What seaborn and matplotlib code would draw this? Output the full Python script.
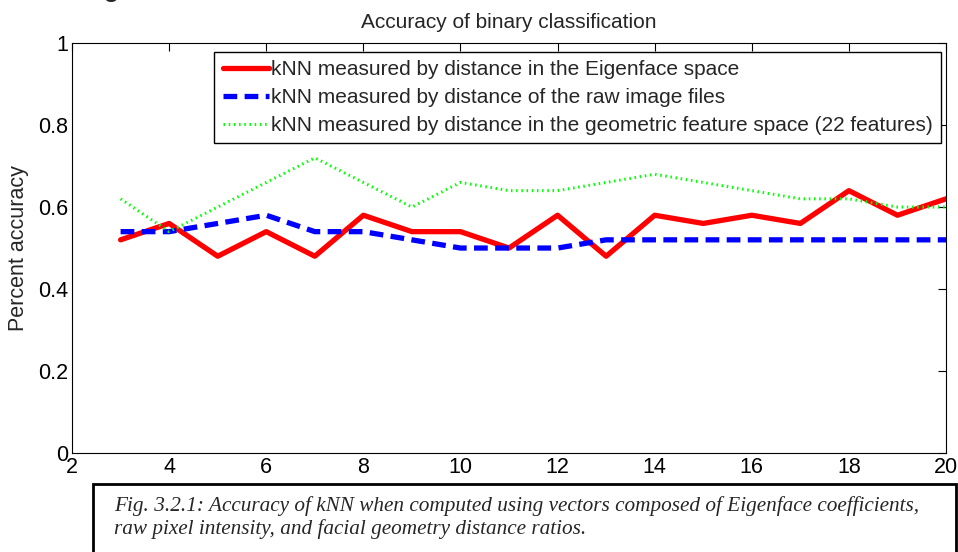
import matplotlib
matplotlib.use("Agg")
import matplotlib.pyplot as plt
import matplotlib.patches as patches
import seaborn as sns
import pandas as pd

# number of neighbours k
k_values = list(range(3, 21))

# accuracy values
eigenface_acc = [0.52, 0.56, 0.48, 0.54, 0.48, 0.58, 0.54, 0.54, 0.50,
                 0.58, 0.48, 0.58, 0.56, 0.58, 0.56, 0.64, 0.58, 0.62]
raw_acc = [0.54, 0.54, 0.56, 0.58, 0.54, 0.54, 0.52, 0.50, 0.50,
           0.50, 0.52, 0.52, 0.52, 0.52, 0.52, 0.52, 0.52, 0.52]
geom_acc = [0.62, 0.54, 0.60, 0.66, 0.72, 0.66, 0.60, 0.66, 0.64,
            0.64, 0.66, 0.68, 0.66, 0.64, 0.62, 0.62, 0.60, 0.60]

labels = ["kNN measured by distance in the Eigenface space",
          "kNN measured by distance of the raw image files",
          "kNN measured by distance in the geometric feature space (22 features)"]

x_ticks = [2, 4, 6, 8, 10, 12, 14, 16, 18, 20]
y_ticks = [0, 0.2, 0.4, 0.6, 0.8, 1]
y_ticklabels = ["0", "0.2", "0.4", "0.6", "0.8", "1"]

caption = ("Fig. 3.2.1: Accuracy of kNN when computed using vectors composed of Eigenface coefficients,\n"
           "raw pixel intensity, and facial geometry distance ratios.")

df = pd.DataFrame({"k": k_values, "eig": eigenface_acc, "raw": raw_acc, "geom": geom_acc})

sns.set_style("white")
plt.rcParams["font.family"] = ["Liberation Sans", "DejaVu Sans"]

fig = plt.figure(figsize=(9.58, 5.52), dpi=100)
ax = fig.add_axes([0.0752, 0.1793, 0.9123, 0.7427])

sns.lineplot(data=df, x="k", y="eig", ax=ax, color=(1, 0, 0), linewidth=3.8,
             label=labels[0])
sns.lineplot(data=df, x="k", y="raw", ax=ax, color=(0, 0, 1), linewidth=3.8,
             linestyle=(0, (2.6, 1.4)), label=labels[1])
sns.lineplot(data=df, x="k", y="geom", ax=ax, color=(0, 1, 0), linewidth=2.2,
             linestyle=(0, (0.5, 1.2)), label=labels[2])

ax.set_xlim(2, 20)
ax.set_ylim(0, 1)
ax.set_xticks(x_ticks)
ax.set_xticklabels([str(t) for t in x_ticks])
ax.set_yticks(y_ticks)
ax.set_yticklabels(y_ticklabels)
ax.tick_params(direction="in", length=6, width=0.8, top=True, right=True,
               labelsize=15.5, colors="black", pad=3)
for s in ax.spines.values():
    s.set_color("black")
    s.set_linewidth(0.8)

ax.set_xlabel("")
ax.set_ylabel("Percent accuracy", fontsize=15.5, labelpad=6)
ax.set_title("Accuracy of binary classification", fontsize=15, pad=11)

leg = ax.legend(loc="upper right", bbox_to_anchor=(0.994, 0.978), borderaxespad=0,
                fontsize=15, frameon=True, fancybox=False, framealpha=1,
                handlelength=2.2, handletextpad=0.1, borderpad=0.4,
                labelspacing=0.42)
leg.get_frame().set_edgecolor("black")
leg.get_frame().set_linewidth(1.0)

# leftover fragment of heading text at the very top
fig.text(0.107, 1.024, "g", fontsize=22, va="center", ha="left")

# caption box below the chart
rect = patches.Rectangle((0.097, -0.05), 0.901, 0.173, transform=fig.transFigure,
                         fill=False, edgecolor="black", linewidth=2, clip_on=False)
fig.patches.append(rect)
fig.text(0.119, 0.062, caption, fontsize=15.3, style="italic",
         family=["Liberation Serif", "DejaVu Serif"], va="center", ha="left",
         linespacing=1.2)

fig.savefig("out.png", dpi=100)
